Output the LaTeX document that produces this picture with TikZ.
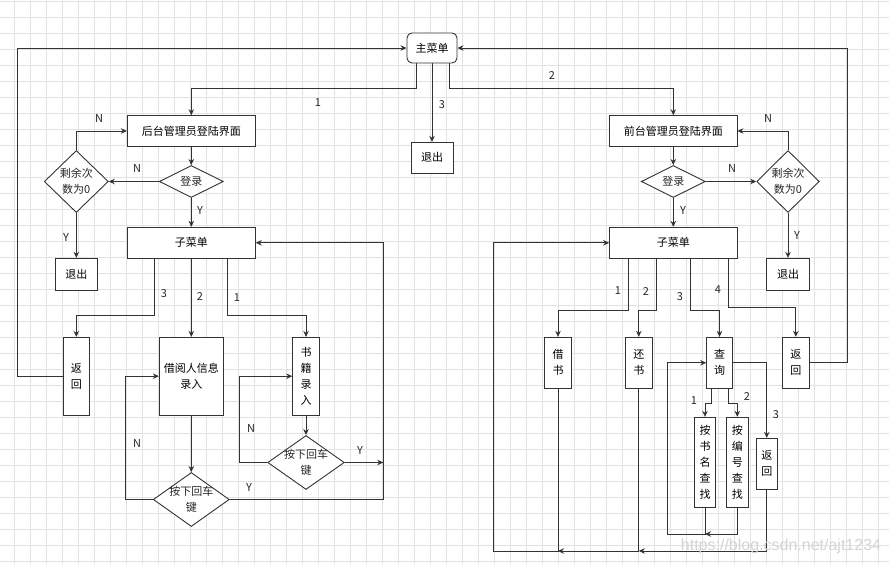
\documentclass[tikz,border=0pt]{standalone}
\usepackage{fontspec}
\setmainfont{Noto Sans CJK SC}
\newfontfamily\wmfont{Liberation Sans}
\usetikzlibrary{shapes.geometric,arrows.meta}
\definecolor{ln}{HTML}{333333}
\definecolor{gridc}{HTML}{E2E2E2}
\definecolor{wmc}{HTML}{D4D4D4}
\tikzset{
  fs/.style={font=\fontsize{11}{16}\selectfont},
  box/.style={draw=ln, line width=0.9pt, fill=white, inner sep=0pt, align=center, fs, text=black},
  dia/.style={box, diamond},
  lab/.style={fs, inner sep=0pt, text=black!85, align=center},
  arr/.style={draw=ln, line width=0.9pt, -{Stealth[length=6pt,width=5.5pt]}},
  ln/.style={draw=ln, line width=0.9pt},
}
\begin{document}
\begin{tikzpicture}[x=1pt,y=-1pt]
\useasboundingbox (0,0) rectangle (889,564);
\fill[white] (0,0) rectangle (889,564);
\foreach \i in {0,...,54} \draw[gridc, line width=0.8pt] (14.5+16*\i,0) -- (14.5+16*\i,564);
\foreach \j in {0,...,35} \draw[gridc, line width=0.8pt] (0,1+16*\j) -- (889,1+16*\j);

% nodes
\node[box, rounded corners=5pt, minimum width=50, minimum height=30] (main) at (432,48) {主菜单};
\node[box, minimum width=42, minimum height=31] (exit0) at (432,157.8) {退出};
\node[box, minimum width=128, minimum height=30.6] (back) at (191.3,131) {后台管理员登陆界面};
\node[box, minimum width=127.3, minimum height=30.6] (front) at (673.3,131) {前台管理员登陆界面};
\node[dia, minimum width=64, minimum height=32, label={[lab]center:登录}] (loginL) at (191.3,181.5) {};
\node[dia, minimum width=64, minimum height=32, label={[lab]center:登录}] (loginR) at (673.3,181.5) {};
\node[dia, minimum width=64, minimum height=62, label={[lab]center:{剩余次\\数为0}}] (remL) at (76.3,181.5) {};
\node[dia, minimum width=62.6, minimum height=62, label={[lab]center:{剩余次\\数为0}}] (remR) at (788,181.5) {};
\node[box, minimum width=42, minimum height=32] (exitL) at (76.3,274.3) {退出};
\node[box, minimum width=43, minimum height=32] (exitR) at (788,274.3) {退出};
\node[box, minimum width=128, minimum height=31] (subL) at (191.3,242.8) {子菜单};
\node[box, minimum width=127.3, minimum height=31] (subR) at (673.3,242.8) {子菜单};
\node[box, minimum width=26, minimum height=77.7] (retL) at (76.3,376.2) {返\\回};
\node[box, minimum width=64, minimum height=77.7] (info) at (191.3,376.2) {借阅人信息\\录入};
\node[box, minimum width=26.6, minimum height=77.7] (bookIn) at (306,376.2) {书\\籍\\录\\入};
\node[dia, minimum width=76, minimum height=54, label={[lab]center:{按下回车\\键}}] (enterL) at (191.3,499.5) {};
\node[dia, minimum width=76.6, minimum height=54, label={[lab]center:{按下回车\\键}}] (enterR) at (306,462.5) {};
\node[box, minimum width=27.4, minimum height=51] (borrow) at (558,362.8) {借\\书};
\node[box, minimum width=27, minimum height=51] (ret) at (638.8,362.8) {还\\书};
\node[box, minimum width=25.6, minimum height=51] (query) at (719.5,362.8) {查\\询};
\node[box, minimum width=27, minimum height=51] (retR) at (795.8,362.8) {返\\回};
\node[box, minimum width=21.4, minimum height=90] (byName) at (705,462.3) {按\\书\\名\\查\\找};
\node[box, minimum width=22, minimum height=90] (byNum) at (737.3,462.3) {按\\编\\号\\查\\找};
\node[box, minimum width=21, minimum height=51] (ret3) at (766.8,463.8) {返\\回};

% corner coordinates
\coordinate (cL) at (17.3,48);
\coordinate (cR) at (847.3,48);
\coordinate (rL) at (383.3,499.5);
\coordinate (qb) at (705,534);
\coordinate (ql) at (667.7,534);
\coordinate (b1) at (558,551);
\coordinate (b2) at (638.8,551);
\coordinate (bl) at (493.3,551);

% main menu
\draw[arr] ([xshift=-15.5pt]main.south) -- ++(0,25.3) -| (back.north);
\draw[arr] (main.south) -- (exit0.north);
\draw[arr] ([xshift=17.3pt]main.south) -- ++(0,25.3) -| (front.north);
\node[lab] (l1) at (318,103) {1};
\node[lab] (l3) at (442,105) {3};
\node[lab] (l2) at (552,76) {2};

% left login
\draw[arr] (back.south) -- (loginL.north);
\draw[arr] (loginL.west) -- (remL.east);
\draw[arr] (remL.north) |- (back.west);
\draw[arr] (remL.south) -- (exitL.north);
\draw[arr] (loginL.south) -- (subL.north);
\node[lab] (nl1) at (137,168) {N};
\node[lab] (nl2) at (99,118) {N};
\node[lab] (yl1) at (66,237) {Y};
\node[lab] (yl2) at (200,210) {Y};

% left submenu
\draw[arr] ([xshift=-37pt]subL.south) -- ++(0,57) -| (retL.north);
\draw[arr] (subL.south) -- (info.north);
\draw[arr] ([xshift=36.4pt]subL.south) -- ++(0,57) -| (bookIn.north);
\node[lab] (sl3) at (164,294) {3};
\node[lab] (sl2) at (200,297) {2};
\node[lab] (sl1) at (237,298) {1};
\draw[arr] (retL.west) -| (cL) -- (main.west);
\draw[arr] (info.south) -- (enterL.north);
\draw[arr] (enterL.west) -- ++(-27.7,0) |- (info.west);
\draw[arr] (enterL.east) -- (rL) |- (subL.east);
\draw[arr] (bookIn.south) -- (enterR.north);
\draw[arr] (enterR.west) -- ++(-27.4,0) |- (bookIn.west);
\draw[arr] (enterR.east) -- (rL |- enterR.east);
\node[lab] (nl3) at (137,443) {N};
\node[lab] (yl3) at (249,487) {Y};
\node[lab] (nl4) at (251,428) {N};
\node[lab] (yl4) at (360,450) {Y};

% right login
\draw[arr] (front.south) -- (loginR.north);
\draw[arr] (loginR.east) -- (remR.west);
\draw[arr] (remR.north) |- (front.east);
\draw[arr] (remR.south) -- (exitR.north);
\draw[arr] (loginR.south) -- (subR.north);
\node[lab] (nr1) at (732,168) {N};
\node[lab] (nr2) at (768,118) {N};
\node[lab] (yr1) at (797,235) {Y};
\node[lab] (yr2) at (683,210) {Y};

% right submenu
\draw[arr] ([xshift=-45pt]subR.south) -- ++(0,51.7) -| (borrow.north);
\draw[arr] ([xshift=-16.6pt]subR.south) -- ++(0,51.7) -| (ret.north);
\draw[arr] ([xshift=17.4pt]subR.south) -- ++(0,51.7) -| (query.north);
\draw[arr] ([xshift=55.4pt]subR.south) -- ++(0,49) -| (retR.north);
\node[lab] (sr1) at (618,291) {1};
\node[lab] (sr2) at (646,292) {2};
\node[lab] (sr3) at (680,297) {3};
\node[lab] (sr4) at (718,290) {4};
\draw[arr] (retR.east) -| (cR) -- (main.east);

% query
\draw[arr] ([xshift=-8.5pt]query.south) -- ++(0,15) -| (byName.north);
\draw[arr] ([xshift=8.8pt]query.south) -- ++(0,15) -| (byNum.north);
\draw[arr] (query.east) -| (ret3.north);
\node[lab] (q1) at (694,401) {1};
\node[lab] (q2) at (747,397) {2};
\node[lab] (q3) at (776,415) {3};
\draw[arr] (byNum.south) |- (qb);
\draw[arr] (byName.south) -- (qb) -- (ql) |- (query.west);

% bottom return
\draw[arr] (ret3.south) |- (b2);
\draw[arr] (ret.south) -- (b2) -- (b1);
\draw[arr] (borrow.south) -- (b1) -- (bl) |- (subR.west);

% watermark
\node[text=wmc, font=\wmfont\fontsize{16}{18}\selectfont, inner sep=0] (wm) at (781,546) {https://blog.csdn.net/ajt1234};
\end{tikzpicture}
\end{document}
